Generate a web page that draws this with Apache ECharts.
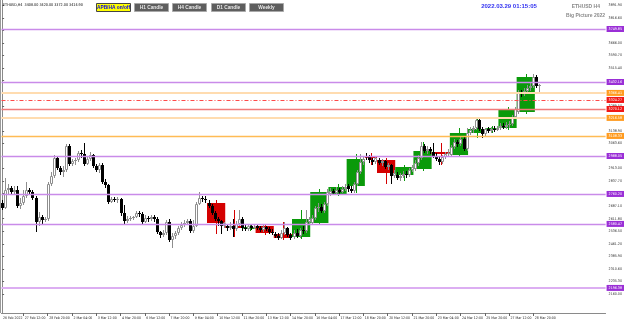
<!DOCTYPE html>
<html><head><meta charset="utf-8">
<script src="https://cdn.jsdelivr.net/npm/echarts@6/dist/echarts.min.js"></script>
<style>html,body{margin:0;padding:0;background:#fff}#c{width:625px;height:328px}</style>
</head><body><div id="c"></div>
<script>
const symbolName = 'ETHUSD,H4';
const dayNames = ['26 Feb','27 Feb','28 Feb','1 Mar','2 Mar','3 Mar','4 Mar','5 Mar','6 Mar','7 Mar','8 Mar','9 Mar','10 Mar','11 Mar','12 Mar','13 Mar','14 Mar','15 Mar','16 Mar','17 Mar','18 Mar','19 Mar','20 Mar','21 Mar','22 Mar','23 Mar','24 Mar','25 Mar','26 Mar','27 Mar','28 Mar','29 Mar'];
const barsPerDay = [4,6,6,6,6,6,6,4,6,6,6,6,6,6,4,6,6,6,6,6,6,4,6,6,6,6,6,6,4,6,6,2];
const xLabels = ['26 Feb 2022','27 Feb 12:00','28 Feb 20:00','2 Mar 04:00','3 Mar 12:00','4 Mar 20:00','6 Mar 12:00','7 Mar 20:00','9 Mar 04:00','10 Mar 12:00','11 Mar 20:00','13 Mar 12:00','14 Mar 20:00','16 Mar 04:00','17 Mar 12:00','18 Mar 20:00','20 Mar 12:00','21 Mar 20:00','23 Mar 04:00','24 Mar 12:00','25 Mar 20:00','27 Mar 12:00','28 Mar 20:00'];
const yTicks = [3891.9,3816.6,3741.3,3666.0,3590.7,3515.4,3440.1,3364.8,3289.5,3214.2,3138.9,3063.6,2988.3,2913.0,2837.7,2762.4,2687.1,2611.8,2536.5,2461.2,2385.9,2310.6,2235.3,2160.0];
const open = [2706,2676,2784,2796,2772,2784,2688,2706,2748,2784,2772,2736,2592,2622,2604,2610,2820,2868,2976,2916,2892,2904,3048,2940,2958,2964,3006,3000,2940,2970,2994,2928,2904,2934,2832,2814,2712,2730,2724,2730,2646,2598,2610,2616,2622,2646,2640,2592,2616,2610,2622,2610,2532,2514,2526,2592,2484,2508,2526,2556,2574,2586,2598,2538,2568,2700,2736,2730,2706,2688,2646,2610,2598,2568,2568,2556,2568,2550,2580,2610,2556,2550,2568,2556,2568,2556,2544,2562,2550,2532,2520,2508,2496,2526,2556,2514,2502,2526,2508,2544,2538,2592,2586,2616,2676,2682,2658,2700,2760,2778,2766,2784,2772,2790,2808,2790,2778,2820,2892,2952,2988,2982,2964,2952,2964,2946,2958,2922,2934,2868,2874,2856,2868,2880,2874,2904,2910,2946,2976,3048,3018,3030,3012,2988,2970,2952,2982,3000,2994,3042,3072,3060,3090,3030,3126,3144,3156,3204,3150,3120,3150,3138,3150,3144,3156,3168,3162,3174,3180,3222,3252,3366,3360,3378,3396,3408,3462,3408];
const high = [2724,2856,2820,2808,2808,2808,2736,2784,2832,2796,2784,2748,2652,2634,2622,2832,2892,2994,2988,2928,2928,3060,3060,2970,2976,3018,3024,3066,2982,3012,3000,2940,2946,2946,2850,2820,2742,2742,2742,2736,2694,2628,2628,2628,2658,2658,2652,2634,2628,2634,2634,2622,2538,2544,2604,2610,2526,2538,2568,2592,2604,2610,2610,2604,2712,2772,2748,2748,2724,2700,2658,2622,2604,2592,2580,2592,2610,2598,2664,2622,2574,2580,2574,2574,2574,2568,2574,2568,2562,2550,2532,2526,2544,2592,2562,2526,2544,2550,2556,2568,2664,2622,2634,2688,2706,2700,2712,2790,2796,2790,2802,2796,2808,2820,2820,2808,2832,2904,3000,2988,3006,2994,2976,2988,2976,2970,2964,2946,2940,2904,2892,2886,2898,2898,2916,2934,2964,2994,3072,3060,3048,3042,3066,3006,2982,2994,3012,3030,3054,3090,3084,3102,3102,3156,3162,3168,3222,3216,3162,3156,3162,3162,3168,3168,3186,3186,3192,3198,3234,3282,3384,3384,3396,3414,3426,3480,3474,3420];
const low = [2664,2670,2754,2754,2760,2676,2670,2694,2736,2754,2724,2532,2568,2580,2592,2598,2808,2856,2904,2874,2862,2892,2928,2928,2934,2952,2976,2928,2934,2958,2916,2892,2886,2820,2796,2700,2706,2712,2706,2628,2580,2586,2598,2604,2616,2622,2580,2586,2592,2598,2592,2520,2496,2502,2514,2472,2436,2490,2514,2544,2562,2574,2526,2526,2562,2694,2712,2706,2676,2634,2598,2568,2520,2556,2538,2544,2502,2538,2568,2538,2538,2538,2544,2550,2544,2532,2532,2538,2520,2514,2496,2484,2490,2514,2502,2484,2490,2496,2496,2520,2526,2574,2580,2604,2652,2646,2646,2688,2748,2754,2760,2754,2766,2778,2772,2766,2766,2808,2880,2934,2964,2946,2934,2940,2934,2928,2910,2904,2820,2856,2844,2838,2856,2856,2862,2892,2898,2928,2964,3006,3000,3000,2976,2958,2934,2940,2970,2988,2982,3030,3042,3048,3018,3018,3114,3126,3144,3138,3096,3108,3126,3126,3132,3138,3144,3150,3150,3156,3168,3210,3240,3342,3348,3366,3378,3396,3396,3372];
const close = [2676,2784,2796,2772,2784,2688,2706,2748,2784,2772,2736,2592,2622,2604,2610,2820,2868,2976,2916,2892,2904,3048,2940,2958,2964,3006,3000,2940,2970,2994,2928,2904,2934,2832,2814,2712,2730,2724,2730,2646,2598,2610,2616,2622,2646,2640,2592,2616,2610,2622,2610,2532,2514,2526,2592,2484,2508,2526,2556,2574,2586,2598,2538,2568,2700,2736,2730,2724,2688,2646,2610,2598,2568,2586,2556,2568,2550,2580,2610,2556,2550,2568,2556,2562,2556,2544,2562,2550,2532,2526,2508,2496,2526,2556,2514,2496,2526,2508,2544,2538,2592,2610,2616,2676,2682,2658,2700,2772,2778,2766,2784,2772,2790,2802,2790,2778,2820,2892,2952,2970,2982,2964,2952,2976,2946,2958,2922,2934,2868,2886,2856,2868,2880,2874,2904,2922,2946,2976,3048,3018,3030,3018,2988,2970,2952,2982,3000,3006,3042,3072,3060,3090,3030,3126,3144,3156,3204,3150,3120,3150,3138,3150,3144,3156,3168,3162,3174,3180,3222,3270,3366,3360,3378,3396,3408,3462,3408,3414.9];
const boxFirstDay = '10 Mar';
const boxLastDay = '28 Mar';
const levelPrices = [3749.85,3432.16,3366.41,3324.27,3270.12,3216.58,3108.33,2988.05,2760.20,2580.47,2196.38];
const levelKinds = ['purple','purple','lightOrange','redDash','red','lightOrange','orange','purple','purple','purple','purpleWide'];
const clockText = '2022.03.29 01:15:05';
const panelTitle = 'ETHUSD H4';
const panelSub = 'Big Picture 2022';
const buttons = ['APB/HA on/off','H1 Candle','H4 Candle','D1 Candle','Weekly'];

// ---- build ----
const cv = document.createElement('canvas').getContext('2d');
function pickFamily(){
  const probe='28 Mar 20:00 abcdefgWM';
  for(const f of ['Liberation Sans Narrow','DejaVu Sans Condensed','Liberation Sans']){
    cv.font='20px monospace';const w0=cv.measureText(probe).width;
    cv.font='20px "'+f+'", monospace';const w1=cv.measureText(probe).width;
    if(Math.abs(w1-w0)>0.5) return f;
  }
  return 'sans-serif';
}
const FAM = pickFamily();
function sizeFor(text,target,weight){cv.font=(weight||'')+' 100px "'+FAM+'"';return 100*target/cv.measureText(text).width;}
const xFont = Math.min(5.2,sizeFor('28 Mar 20:00',21));
const yFont = Math.min(5.2,sizeFor('3891.90',13.5));
const tFont = Math.min(5.2,sizeFor('ETHUSD,H4  3408.00 3420.00 3372.00 3414.90',80));

const barDay = [], barTime = [];
dayNames.forEach((d,k)=>{for(let j=0;j<barsPerDay[k];j++){barDay.push(k);barTime.push(d+' '+String(j*4).padStart(2,'0')+':00');}});
const labelBars = xLabels.map((t,k)=>{const i=barTime.indexOf(t);return (k===0||i<0)?0:i;});
const X_MIN = -0.213, X_MAX = 198.8;
const labelVals = labelBars.map((b,k)=>k===0?X_MIN+0.01:b);
const h4Data = open.map((o,i)=>[i,o,high[i],low[i],close[i]]);
const dayData = [];
for(let k=dayNames.indexOf(boxFirstDay);k<=dayNames.indexOf(boxLastDay);k++){
  const idx=[];barDay.forEach((d,i)=>{if(d===k)idx.push(i);});
  const s=idx[0],e=idx[idx.length-1];
  dayData.push([s,e,open[s],Math.max(...idx.map(i=>high[i])),Math.min(...idx.map(i=>low[i])),close[e]]);
}
const lvlStyle = {
  purple:{c:'#c98be9',w:1.3,t:'solid',bg:'#9a2fd6'},
  purpleWide:{c:'#dcaef2',w:2.2,t:'solid',bg:'#9a2fd6'},
  lightOrange:{c:'#ffdcb0',w:2,t:'solid',bg:'#ff9b1f'},
  orange:{c:'#ffbb55',w:1.3,t:'solid',bg:'#ff9b1f'},
  red:{c:'#f07a7a',w:1.3,t:'solid',bg:'#f01818'},
  redDash:{c:'#ff4a4a',w:1,t:[4,2,1,2],bg:'#f01818'}
};
function lvlLabel(p,bg){return {show:true,position:'end',distance:1,formatter:p.toFixed(2),backgroundColor:bg,color:'#fff',fontSize:yFont,fontFamily:FAM,padding:[1,2,0,2],lineHeight:5};}
const markData = levelPrices.map((p,k)=>{const s=lvlStyle[levelKinds[k]];return {yAxis:p,lineStyle:{color:s.c,width:s.w,type:s.t},label:lvlLabel(p,s.bg)};});
const bid = close[close.length-1];
markData.push({yAxis:bid,lineStyle:{opacity:0},label:lvlLabel(bid,'#111')});

function renderH4(params, api){
  const i=api.value(0),o=api.value(1),h=api.value(2),l=api.value(3),c=api.value(4);
  const pO=api.coord([i,o]),pC=api.coord([i,c]),pH=api.coord([i,h]),pL=api.coord([i,l]);
  const cx=Math.round(pO[0]);
  const bull=c>=o;
  const top=Math.round(Math.min(pO[1],pC[1])),bot=Math.round(Math.max(pO[1],pC[1]));
  const yh=Math.round(pH[1]),yl=Math.round(pL[1]);
  const ch=[{type:'rect',shape:{x:cx,y:yh,width:1,height:Math.max(1,yl-yh)},style:{fill:bull?'#8e8e8e':'#000'}}];
  if(bull){
    if(bot-top>=3) ch.push({type:'rect',shape:{x:cx-0.5,y:top+0.5,width:2,height:bot-top-1},style:{fill:'#fff',stroke:'#8e8e8e',lineWidth:1}});
    else ch.push({type:'rect',shape:{x:cx-1,y:top,width:3,height:Math.max(1,bot-top)},style:{fill:'#8e8e8e'}});
  } else {
    ch.push({type:'rect',shape:{x:cx-1,y:top,width:3,height:Math.max(1,bot-top)},style:{fill:'#000'}});
  }
  return {type:'group',children:ch};
}
function renderDay(params, api){
  const s=api.value(0),e=api.value(1),o=api.value(2),h=api.value(3),l=api.value(4),c=api.value(5);
  const a=api.coord([s-0.5,o]),b=api.coord([e+0.5,c]);
  const m=api.coord([(s+e)/2,h]),n=api.coord([(s+e)/2,l]);
  const col=c>=o?'#0a9a0a':'#d40000';
  const y0=Math.min(a[1],b[1]),hh=Math.max(2,Math.abs(b[1]-a[1]));
  return {type:'group',children:[
    {type:'rect',shape:{x:Math.round(m[0]),y:m[1],width:1,height:n[1]-m[1]},style:{fill:col}},
    {type:'rect',shape:{x:a[0],y:y0,width:b[0]-a[0],height:hh},style:{fill:col}}
  ]};
}
const graphics = [
  {type:'rect',x:0,y:0,shape:{width:1,height:313},style:{fill:'#9a9a9a'},z:100},
  {type:'text',x:3,y:5,style:{text:symbolName+'  '+[open,high,low,close].map(a=>a[a.length-1].toFixed(2)).join(' '),fill:'#000',font:tFont.toFixed(2)+'px "'+FAM+'"',verticalAlign:'middle',textVerticalAlign:'middle'},z:100},
  {type:'text',x:509,y:6,style:{text:clockText,fill:'#3030f0',font:'bold 6px "Liberation Sans",sans-serif',align:'center',textAlign:'center',verticalAlign:'middle',textVerticalAlign:'middle'},z:100},
  {type:'text',x:600,y:7,style:{text:panelTitle,fill:'#8a8a8a',font:'bold 5px "Liberation Sans",sans-serif',align:'right',textAlign:'right',verticalAlign:'middle',textVerticalAlign:'middle'},z:100},
  {type:'text',x:605,y:15.5,style:{text:panelSub,fill:'#8a8a8a',font:'bold 5px "Liberation Sans",sans-serif',align:'right',textAlign:'right',verticalAlign:'middle',textVerticalAlign:'middle'},z:100}
];
const bx=[96,134,172,211,249];
buttons.forEach((t,k)=>{
  const yellow=k===0;
  graphics.push({type:'rect',x:bx[k]+0.5,y:3.5,shape:{width:34,height:8},style:{fill:yellow?'#ffff00':'#5e5e5e',stroke:yellow?'#444':'#a8a8a8',lineWidth:1},z:100});
  graphics.push({type:'text',x:bx[k]+17.5,y:7.7,style:{text:t,fill:yellow?'#0000ee':'#e6e6e6',font:'bold 4.8px "Liberation Sans",sans-serif',align:'center',textAlign:'center',verticalAlign:'middle',textVerticalAlign:'middle'},z:101});
});

const chart = echarts.init(document.getElementById('c'));
chart.setOption({
  animation:false,
  backgroundColor:'#fff',
  grid:{left:0,right:18,top:0,bottom:15,containLabel:false},
  xAxis:{type:'value',min:X_MIN,max:X_MAX,position:'bottom',
    axisLine:{show:true,lineStyle:{color:'#8a8a8a',width:1}},
    splitLine:{show:false},
    axisTick:{show:true,customValues:labelBars.slice(1),length:3,lineStyle:{color:'#666'}},
    axisLabel:{show:true,customValues:labelVals,hideOverlap:false,showMinLabel:true,showMaxLabel:true,formatter:(v)=>xLabels[labelVals.indexOf(v)]||'',align:'left',margin:4,padding:[0,0,0,1.5],fontSize:xFont,fontFamily:FAM,color:'#222'}},
  yAxis:{type:'value',position:'right',min:2046,max:3924,
    axisLine:{show:true,lineStyle:{color:'#8a8a8a',width:1}},
    splitLine:{show:false},
    axisTick:{show:true,customValues:yTicks,length:2,lineStyle:{color:'#666'}},
    axisLabel:{show:true,customValues:yTicks,hideOverlap:false,formatter:(v)=>v.toFixed(2),margin:3,fontSize:yFont,fontFamily:FAM,color:'#333'}},
  graphic:graphics,
  series:[
    {type:'custom',name:'D1',renderItem:renderDay,data:dayData,z:2,clip:true,silent:true},
    {type:'custom',name:'H4',renderItem:renderH4,data:h4Data,z:3,clip:true,silent:true},
    {type:'line',name:'levels',data:[],z:4,silent:true,markLine:{silent:true,symbol:['none','none'],animation:false,data:markData}}
  ]
});
</script></body></html>
